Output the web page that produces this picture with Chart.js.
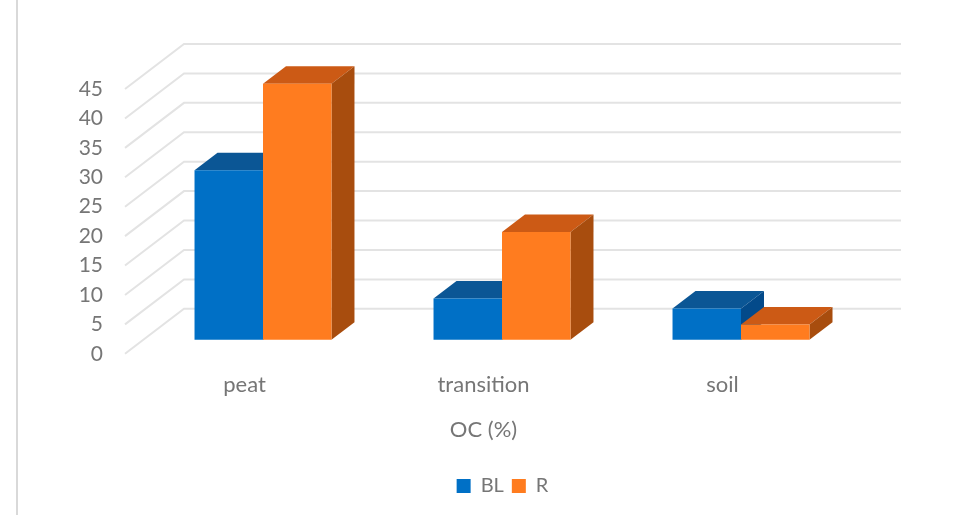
<!DOCTYPE html>
<html>
<head>
<meta charset="utf-8">
<title>OC (%)</title>
<script src="https://cdn.jsdelivr.net/npm/chart.js@4"></script>
<style>
  html, body { margin: 0; padding: 0; background: #fff; }
  #wrap { position: relative; width: 971px; height: 515px; }
  #rule { position: absolute; left: 16px; top: 0; width: 2px; height: 515px; background: #d9d9d9; }
  canvas { position: absolute; left: 0; top: 0; }
</style>
</head>
<body>
<div id="wrap">
  <div id="rule"></div>
  <canvas id="chart" width="971" height="515"></canvas>
</div>
<script>
const categories = ['peat', 'transition', 'soil'];
const blValues = [28.8, 7, 5.3];
const rValues = [43.5, 18.3, 2.6];
const yTicks = [0, 5, 10, 15, 20, 25, 30, 35, 40, 45];

const GREY = '#767676';
const FONT = 'Lato, sans-serif';

// pseudo-3D box geometry, in px
const WALL = { x: 59, y: 45 };      // floor front edge to back wall
const FRONT = { x: 18.5, y: 14 };   // floor front edge to bar front face
const DEPTH = { x: 23, y: 17.5 };   // bar front face to bar back face

const shades = {
  BL: { top: '#0b5695', side: '#034a8a' },
  R: { top: '#cc5a15', side: '#a84d0e' }
};

function poly(ctx, pts, fill) {
  ctx.fillStyle = fill;
  ctx.beginPath();
  pts.forEach((p, i) => i ? ctx.lineTo(p[0], p[1]) : ctx.moveTo(p[0], p[1]));
  ctx.closePath();
  ctx.fill();
}

const box3d = {
  id: 'box3d',
  // push the bars back off the front edge of the floor
  afterDatasetsUpdate(chart) {
    chart.getSortedVisibleDatasetMetas().forEach(meta => {
      meta.data.forEach(bar => {
        bar.x += FRONT.x;
        bar.y -= FRONT.y;
        bar.base -= FRONT.y;
      });
    });
  },
  beforeDatasetsDraw(chart) {
    const { ctx, chartArea, scales } = chart;
    // gridlines run along the side wall and then across the back wall
    ctx.save();
    ctx.strokeStyle = '#e3e3e3';
    ctx.lineWidth = 2;
    yTicks.forEach(v => {
      const y = scales.y.getPixelForValue(v);
      ctx.beginPath();
      ctx.moveTo(chartArea.left, y);
      ctx.lineTo(chartArea.left + WALL.x, y - WALL.y);
      ctx.lineTo(chartArea.right + WALL.x, y - WALL.y);
      ctx.stroke();
    });
    ctx.restore();
    // top and side faces, BL first so R sits over it; the library paints
    // the front faces afterwards
    chart.data.datasets.forEach((ds, i) => {
      const c = shades[ds.label];
      chart.getDatasetMeta(i).data.forEach(bar => {
        const { x, y, base, width } = bar.getProps(['x', 'y', 'base', 'width'], true);
        const l = x - width / 2, r = x + width / 2;
        poly(ctx, [[l, y], [l + DEPTH.x, y - DEPTH.y], [r + DEPTH.x, y - DEPTH.y], [r, y]], c.top);
        poly(ctx, [[r, y], [r + DEPTH.x, y - DEPTH.y], [r + DEPTH.x, base - DEPTH.y], [r, base]], c.side);
      });
    });
  }
};

new Chart(document.getElementById('chart'), {
  type: 'bar',
  plugins: [box3d],
  data: {
    labels: categories,
    datasets: [
      { label: 'BL', data: blValues, backgroundColor: '#0070c6', clip: false },
      { label: 'R', data: rValues, backgroundColor: '#ff7c1f', clip: false }
    ]
  },
  options: {
    responsive: false,
    animation: false,
    layout: { padding: { left: 34, right: 0, top: 89, bottom: 9 } },
    datasets: { bar: { barPercentage: 1, categoryPercentage: 0.573 } },
    plugins: {
      tooltip: { enabled: false },
      legend: {
        position: 'bottom',
        labels: {
          color: GREY,
          font: { family: FONT, size: 20 },
          boxWidth: 14,
          boxHeight: 14,
          padding: 8
        }
      }
    },
    scales: {
      x: {
        grid: { display: false, drawTicks: false },
        border: { display: false },
        ticks: { color: GREY, font: { family: FONT, size: 22 }, padding: 18.2, maxRotation: 0 },
        title: { display: true, text: 'OC (%)', color: GREY, font: { family: FONT, size: 22 }, padding: { top: 0, bottom: 25 } }
      },
      y: {
        min: 0,
        max: 45,
        afterBuildTicks(scale) { scale.ticks = yTicks.map(v => ({ value: v })); },
        afterFit(scale) { scale.width = 91; },
        grid: { display: false, drawTicks: false },
        border: { display: false },
        ticks: { color: GREY, font: { family: FONT, size: 21 }, padding: 22, autoSkip: false }
      },
      // empty axis that reserves the room taken by the back wall on the right
      wall: {
        position: 'right',
        min: 0,
        max: 45,
        afterFit(scale) { scale.width = 129; },
        grid: { display: false },
        border: { display: false },
        ticks: { display: false }
      }
    }
  }
});
</script>
</body>
</html>
